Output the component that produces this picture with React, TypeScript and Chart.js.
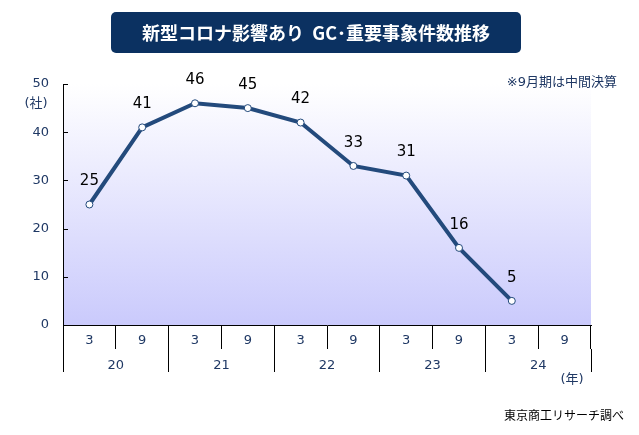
import React, { useEffect, useRef } from 'react';
import { Chart, registerables } from 'chart.js';

Chart.register(...registerables);

const years = ['20', '21', '22', '23', '24'];
const months = ['3', '9', '3', '9', '3', '9', '3', '9', '3', '9'];
const cases = [25, 41, 46, 45, 42, 33, 31, 16, 5, null];

const titleText = '新型コロナ影響あり  GC･重要事象件数推移';
const noteText = '※9月期は中間決算';
const sourceText = '東京商工リサーチ調べ';
const FONT = "'DejaVu Sans', 'Noto Sans CJK JP', sans-serif";
const NAVY = '#1f3864';

const decorPlugin = {
    id: 'decor',
    beforeDraw(chart: any) {
        const { ctx, chartArea: a } = chart;
        ctx.save();
        const g = ctx.createLinearGradient(0, a.top, 0, a.bottom);
        g.addColorStop(0, 'rgba(255,255,255,1)');
        g.addColorStop(1, 'rgba(202,202,252,1)');
        ctx.fillStyle = g;
        ctx.fillRect(a.left, a.top, a.right - a.left, a.bottom - a.top);

        // title box
        ctx.fillStyle = '#0b3161';
        ctx.beginPath();
        ctx.roundRect(111, 12, 410, 41, 5);
        ctx.fill();
        ctx.fillStyle = '#ffffff';
        ctx.font = "bold 18px 'Noto Sans CJK JP', sans-serif";
        ctx.textAlign = 'center';
        ctx.textBaseline = 'middle';
        ctx.fillText(titleText, 316, 33);
        ctx.restore();
    },
    afterDraw(chart: any) {
        const { ctx, chartArea: a } = chart;
        const y = chart.scales.y;
        ctx.save();
        ctx.strokeStyle = '#000';
        ctx.lineWidth = 1;
        y.ticks.forEach((t: any) => {
            const py = Math.round(y.getPixelForValue(t.value)) + 0.5;
            ctx.beginPath();
            ctx.moveTo(a.left, py);
            ctx.lineTo(a.left + 5, py);
            ctx.stroke();
        });
        // closing tick at the right end of the month row
        const rx = Math.round(a.right) - 0.5;
        ctx.beginPath();
        ctx.moveTo(rx, a.bottom);
        ctx.lineTo(rx, a.bottom + 24);
        ctx.stroke();

        ctx.fillStyle = NAVY;
        ctx.font = `13px ${FONT}`;
        ctx.textAlign = 'center';
        ctx.textBaseline = 'middle';
        ctx.fillText('(社)', 36, 104);
        ctx.fillText('(年)', 572, 380);
        ctx.textAlign = 'right';
        ctx.fillText(noteText, 617, 83);
        ctx.fillStyle = '#000';
        ctx.font = `12px ${FONT}`;
        ctx.fillText(sourceText, 624, 417);

        // value labels
        const meta = chart.getDatasetMeta(0);
        ctx.font = `15px ${FONT}`;
        ctx.textAlign = 'center';
        ctx.fillStyle = '#000';
        meta.data.forEach((p: any, i: number) => {
            const v = cases[i];
            if (v == null) return;
            ctx.fillText(String(v), p.x, p.y - 23);
        });
        ctx.restore();
    },
};

const App: React.FC = () => {
    const chartRef = useRef<HTMLCanvasElement | null>(null);

    useEffect(() => {
        document.body.style.margin = '0';
        if (!chartRef.current) return;
        const ctx = chartRef.current.getContext('2d');
        if (!ctx) return;

        const chart = new Chart(ctx, {
            type: 'line',
            data: {
                labels: months,
                datasets: [
                    {
                        data: cases,
                        borderColor: '#234a7c',
                        borderWidth: 4,
                        pointRadius: 3.5,
                        pointBorderWidth: 1,
                        pointBackgroundColor: '#ffffff',
                        pointBorderColor: '#234a7c',
                        tension: 0,
                    },
                ],
            },
            options: {
                responsive: false,
                animation: false,
                layout: { padding: { top: 84, right: 48, bottom: 63, left: 0 } },
                plugins: {
                    legend: { display: false },
                    tooltip: { enabled: false },
                },
                scales: {
                    x: {
                        type: 'category',
                        position: 'bottom',
                        offset: true,
                        weight: 0,
                        grid: {
                            offset: true,
                            drawOnChartArea: false,
                            drawTicks: true,
                            tickLength: 24,
                            color: '#000',
                        },
                        border: { display: true, color: '#000', width: 1 },
                        ticks: {
                            color: NAVY,
                            font: { family: FONT, size: 13 },
                            padding: -16,
                            maxRotation: 0,
                            autoSkip: false,
                        },
                        afterFit: (s: any) => {
                            s.height = 24;
                        },
                    },
                    x2: {
                        type: 'category',
                        position: 'bottom',
                        labels: years,
                        offset: true,
                        weight: 1,
                        grid: {
                            offset: true,
                            drawOnChartArea: false,
                            drawTicks: true,
                            tickLength: 23,
                            color: '#000',
                        },
                        border: { display: false },
                        ticks: {
                            color: NAVY,
                            font: { family: FONT, size: 13 },
                            padding: -14,
                            maxRotation: 0,
                            autoSkip: false,
                        },
                        afterFit: (s: any) => {
                            s.height = 23;
                        },
                    },
                    y: {
                        min: 0,
                        max: 50,
                        ticks: {
                            stepSize: 10,
                            color: NAVY,
                            font: { family: FONT, size: 13 },
                            padding: 14,
                        },
                        grid: { display: false, drawTicks: false },
                        border: { display: true, color: '#000', width: 1 },
                        afterFit: (s: any) => {
                            s.width = 63;
                        },
                    },
                },
            },
            plugins: [decorPlugin],
        });

        return () => {
            chart.destroy();
        };
    }, []);

    return (
        <div style={{ position: 'fixed', left: 0, top: 0, width: 639, height: 435, background: '#fff' }}>
            <canvas ref={chartRef} width={639} height={435} />
        </div>
    );
};

export default App;
